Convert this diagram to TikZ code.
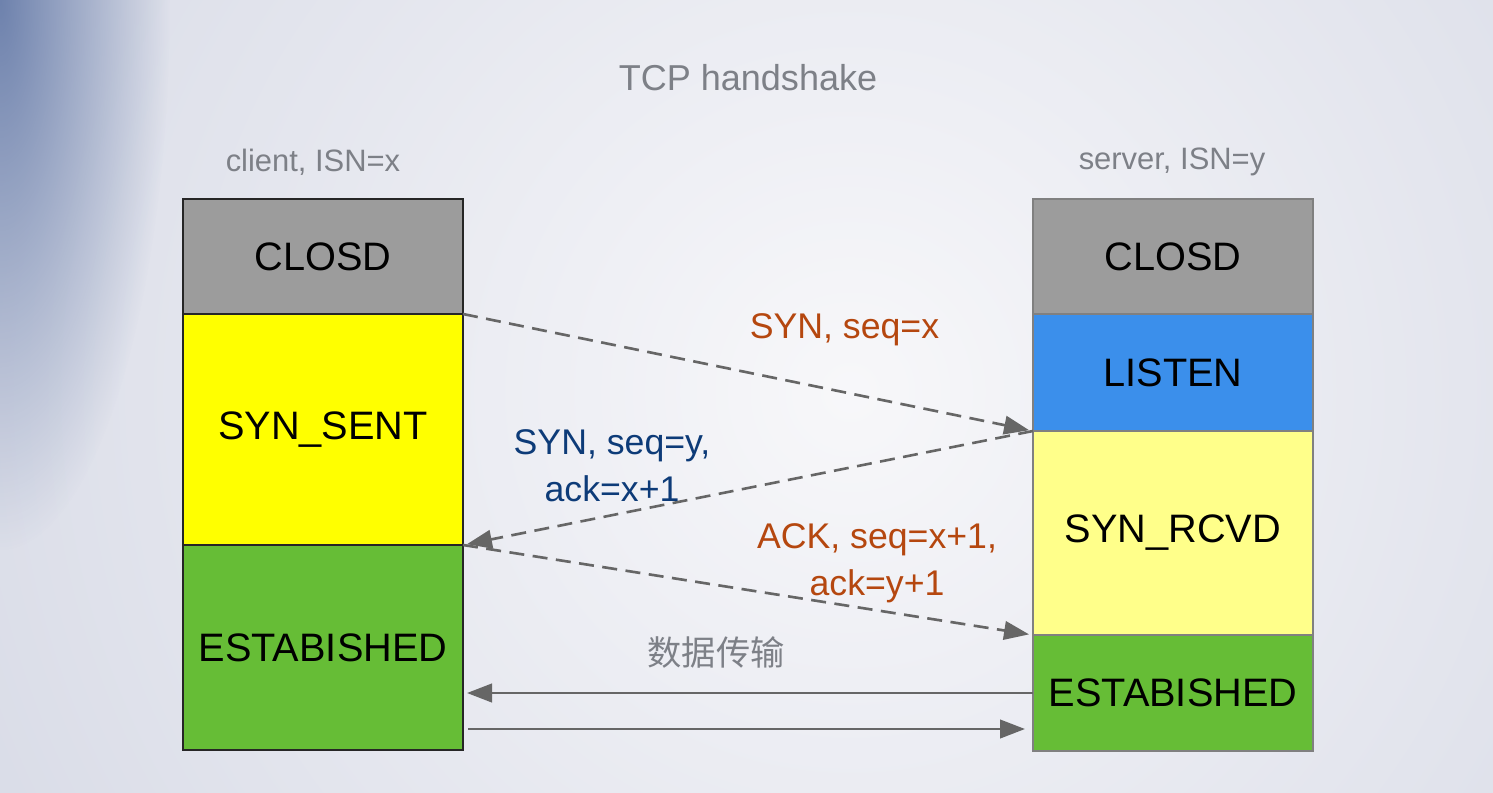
\documentclass[tikz,border=0pt]{standalone}
\usepackage{fontspec}
\setmainfont{Liberation Sans}
\newfontfamily\cjk{Noto Sans CJK SC}
\usetikzlibrary{positioning,arrows.meta,fadings}

\tikzfading[name=cornerfade, inner color=transparent!0, outer color=transparent!100]

\begin{document}
\begin{tikzpicture}[
  state/.style={draw=boxdark, rectangle, minimum width=5.6cm, inner sep=0pt,
    outer sep=0pt, line width=1.1pt, font=\fontsize{22.6}{27}\selectfont},
  msg/.style={draw=arrcol, line width=1.5pt, dash pattern=on 0.3cm off 0.17cm,
    shorten >=0.08cm, -{Triangle[length=0.5cm,width=0.37cm]}},
  data/.style={draw=arrcol, line width=1.5pt,
    -{Triangle[length=0.5cm,width=0.37cm]}},
  lbl/.style={align=center, font=\fontsize{20.3}{26.7}\selectfont},
  node distance=0cm]

  \definecolor{bgin}{rgb}{0.97,0.97,0.98}
  \definecolor{bgout}{rgb}{0.76,0.78,0.85}
  \definecolor{bgcorner}{rgb}{0.43,0.51,0.68}
  \definecolor{boxdark}{rgb}{0.15,0.15,0.15}
  \definecolor{boxgray}{rgb}{0.50,0.50,0.50}
  \definecolor{closedcol}{rgb}{0.61,0.61,0.61}
  \definecolor{sentcol}{rgb}{1.0,1.0,0.0}
  \definecolor{estcol}{rgb}{0.40,0.74,0.21}
  \definecolor{listencol}{rgb}{0.23,0.56,0.92}
  \definecolor{rcvdcol}{rgb}{1.0,1.0,0.54}
  \definecolor{arrcol}{rgb}{0.40,0.40,0.40}
  \definecolor{titlecol}{rgb}{0.49,0.50,0.53}
  \definecolor{synxcol}{rgb}{0.71,0.28,0.06}
  \definecolor{synycol}{rgb}{0.05,0.23,0.47}

  % background
  \useasboundingbox (0,0) rectangle (29.86,15.84);
  \begin{scope}
    \clip (0,0) rectangle (29.86,15.84);
    \shade[inner color=bgin, outer color=bgout] (17.0,8.0) circle (34cm);
    \fill[bgcorner, path fading=cornerfade] (0,15.84) ellipse (3.4cm and 11cm);
  \end{scope}

  \node[titlecol, font=\fontsize{20.5}{24}\selectfont] (title) at (14.96,14.28) {TCP handshake};
  \node[titlecol, font=\fontsize{17.6}{21}\selectfont] (client) at (6.26,12.6) {client, ISN=x};
  \node[titlecol, font=\fontsize{17.6}{21}\selectfont] (server) at (23.44,12.6) {server, ISN=y};

  % client
  \node[state, fill=closedcol, minimum height=2.3cm, anchor=north west] (cclosd) at (3.66,11.86) {CLOSD};
  \node[state, fill=sentcol, minimum height=4.62cm, below=of cclosd] (csent) {SYN\_SENT};
  \node[state, fill=estcol, minimum height=4.1cm, below=of csent] (cest) {ESTABISHED};

  % server
  \node[state, draw=boxgray, fill=closedcol, minimum height=2.3cm, anchor=north west] (sclosd) at (20.66,11.86) {CLOSD};
  \node[state, draw=boxgray, fill=listencol, minimum height=2.34cm, below=of sclosd] (slisten) {LISTEN};
  \node[state, draw=boxgray, fill=rcvdcol, minimum height=4.08cm, below=of slisten] (srcvd) {SYN\_RCVD};
  \node[state, draw=boxgray, fill=estcol, minimum height=2.32cm, below=of srcvd] (sest) {ESTABISHED};

  % handshake
  \draw[msg] (cclosd.south east) -- (slisten.south west);
  \draw[msg] (slisten.south west) -- (csent.south east);
  \draw[msg] (csent.south east) -- (srcvd.south west);

  \node[lbl, synxcol] (syn) at (16.89,9.24) {SYN, seq=x};
  \node[lbl, synycol] (synack) at (12.24,6.52) {SYN, seq=y,\\ack=x+1};
  \node[lbl, synxcol] (ack) at (17.54,4.57) {ACK, seq=x+1,\\ack=y+1};

  % data
  \node[titlecol, font=\cjk\fontsize{19.5}{23}\selectfont] (data) at (14.32,2.8) {数据传输};

  \coordinate (dr) at ([yshift=-0.72cm]sest.west);
  \draw[data, shorten >=0.08cm] (sest.west) -- (sest.west -| cest.east);
  \draw[data, shorten <=0.1cm, shorten >=0.16cm] (dr -| cest.east) -- (dr);

\end{tikzpicture}
\end{document}
